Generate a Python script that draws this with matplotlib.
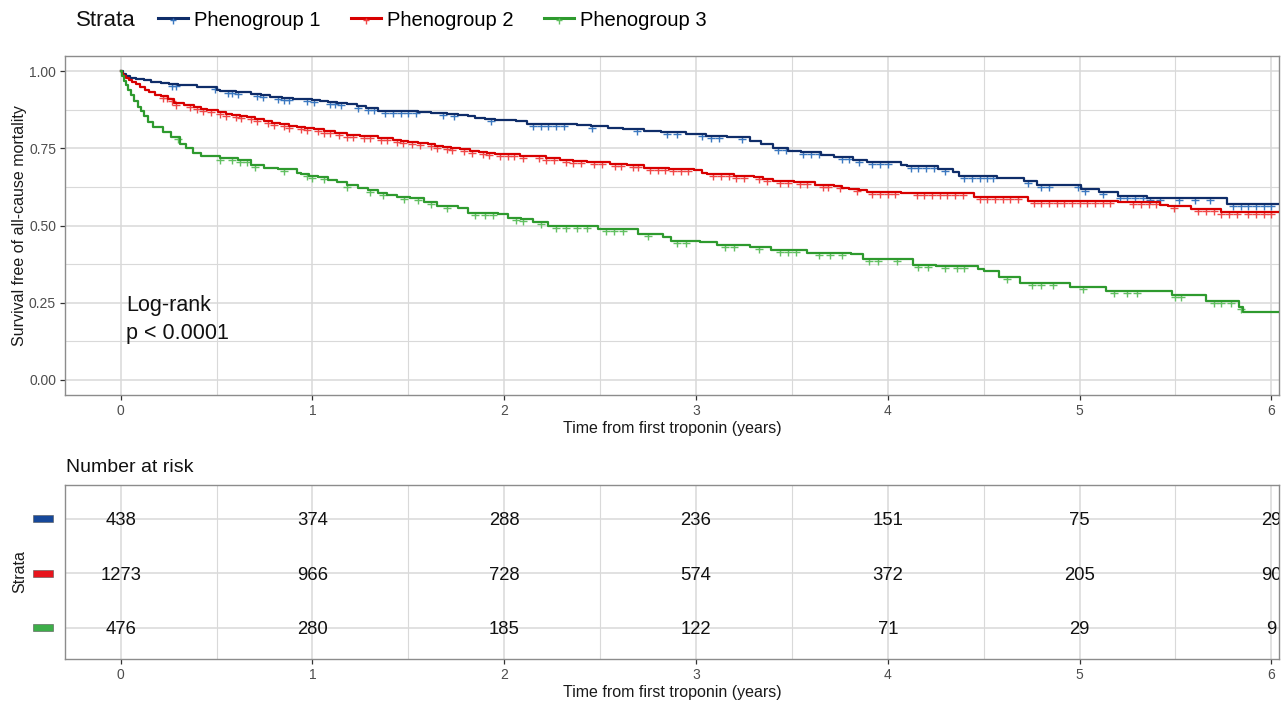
import numpy as np
import matplotlib
matplotlib.use("Agg")
import matplotlib.pyplot as plt
from matplotlib.lines import Line2D
from matplotlib.patches import Rectangle
from matplotlib.path import Path
import matplotlib.transforms as mtransforms

plt.rcParams['font.family'] = ['Liberation Sans', 'DejaVu Sans']

# ---------------- data ----------------
groups = ["Phenogroup 1", "Phenogroup 2", "Phenogroup 3"]

p1_time = [0, 0.01, 0.03, 0.05, 0.08, 0.12, 0.16, 0.21, 0.25, 0.30, 0.35, 0.40, 0.45, 0.50,
           0.52, 0.60, 0.68, 0.73, 0.78, 0.84, 0.90, 1.00, 1.04, 1.08, 1.13, 1.18, 1.23,
           1.28, 1.34, 1.45, 1.55, 1.62, 1.70, 1.76, 1.81, 1.85, 1.90, 1.95, 2.06, 2.12,
           2.38, 2.45, 2.54, 2.62, 2.73, 2.82, 2.95, 3.05, 3.16, 3.28, 3.34, 3.40, 3.48,
           3.55, 3.65, 3.72, 3.82, 3.89, 4.07, 4.10, 4.26, 4.34, 4.37, 4.57, 4.71, 4.78,
           5.01, 5.10, 5.20, 5.35, 5.77]
p1_surv = [1.0, 0.993, 0.986, 0.980, 0.975, 0.971, 0.966, 0.963, 0.960, 0.957, 0.955, 0.951,
           0.948, 0.940, 0.935, 0.932, 0.928, 0.923, 0.918, 0.915, 0.912, 0.908, 0.905,
           0.902, 0.898, 0.893, 0.888, 0.882, 0.872, 0.870, 0.868, 0.866, 0.862, 0.858,
           0.854, 0.850, 0.846, 0.842, 0.838, 0.831, 0.827, 0.822, 0.817, 0.813, 0.808,
           0.802, 0.797, 0.792, 0.786, 0.775, 0.766, 0.752, 0.743, 0.738, 0.730, 0.722,
           0.712, 0.705, 0.698, 0.692, 0.684, 0.675, 0.660, 0.655, 0.643, 0.630, 0.617,
           0.610, 0.597, 0.588, 0.571]

p2_time = [0, 0.005, 0.01, 0.02, 0.03, 0.045, 0.06, 0.08, 0.10, 0.125, 0.15, 0.18, 0.21,
           0.245, 0.28, 0.33, 0.38, 0.42, 0.45, 0.51, 0.55, 0.58, 0.62, 0.66, 0.70, 0.75,
           0.79, 0.83, 0.88, 0.92, 0.96, 1.01, 1.06, 1.12, 1.18, 1.25, 1.34, 1.42, 1.46,
           1.50, 1.55, 1.60, 1.64, 1.68, 1.72, 1.77, 1.82, 1.87, 1.91, 1.95, 2.08, 2.15,
           2.22, 2.29, 2.36, 2.43, 2.55, 2.64, 2.73, 2.86, 2.99, 3.03, 3.06, 3.20, 3.30,
           3.35, 3.40, 3.51, 3.62, 3.72, 3.76, 3.80, 3.85, 3.89, 4.07, 4.12, 4.45, 4.73,
           5.20, 5.42, 5.46, 5.58, 5.74]
p2_surv = [1.0, 0.995, 0.99, 0.984, 0.978, 0.971, 0.965, 0.958, 0.951, 0.941, 0.932, 0.925,
           0.919, 0.909, 0.899, 0.890, 0.883, 0.878, 0.874, 0.867, 0.863, 0.859, 0.855,
           0.851, 0.846, 0.840, 0.834, 0.828, 0.824, 0.820, 0.816, 0.812, 0.806, 0.800,
           0.795, 0.789, 0.784, 0.779, 0.775, 0.771, 0.767, 0.763, 0.759, 0.755, 0.751,
           0.747, 0.742, 0.738, 0.734, 0.731, 0.727, 0.724, 0.719, 0.714, 0.709, 0.705,
           0.700, 0.695, 0.688, 0.684, 0.679, 0.672, 0.666, 0.662, 0.659, 0.652, 0.646,
           0.640, 0.633, 0.627, 0.622, 0.618, 0.614, 0.610, 0.607, 0.604, 0.594, 0.580,
           0.575, 0.568, 0.562, 0.552, 0.545]

p3_time = [0, 0.005, 0.015, 0.026, 0.04, 0.052, 0.07, 0.089, 0.105, 0.12, 0.145, 0.17, 0.22,
           0.26, 0.31, 0.34, 0.375, 0.42, 0.52, 0.61, 0.68, 0.75, 0.82, 0.88, 0.92, 0.94,
           0.98, 1.03, 1.08, 1.13, 1.18, 1.24, 1.29, 1.34, 1.39, 1.44, 1.51, 1.58, 1.65,
           1.76, 1.81, 1.97, 2.02, 2.09, 2.15, 2.23, 2.49, 2.70, 2.83, 2.87, 3.02, 3.11,
           3.28, 3.39, 3.58, 3.81, 3.87, 4.13, 4.25, 4.47, 4.50, 4.58, 4.69, 4.95, 5.14,
           5.48, 5.66, 5.83, 5.85]
p3_surv = [1.0, 0.985, 0.97, 0.955, 0.94, 0.925, 0.905, 0.886, 0.870, 0.854, 0.837, 0.821,
           0.805, 0.786, 0.763, 0.750, 0.734, 0.724, 0.720, 0.714, 0.698, 0.688, 0.685,
           0.682, 0.672, 0.666, 0.661, 0.656, 0.648, 0.640, 0.632, 0.623, 0.615, 0.607,
           0.600, 0.594, 0.588, 0.575, 0.562, 0.558, 0.542, 0.539, 0.526, 0.520, 0.513,
           0.497, 0.490, 0.471, 0.464, 0.451, 0.448, 0.438, 0.429, 0.422, 0.412, 0.409,
           0.390, 0.373, 0.368, 0.360, 0.351, 0.334, 0.312, 0.299, 0.286, 0.276, 0.256,
           0.237, 0.218]

end_time = [6.06, 6.06, 6.06]

p1_censor = [0.27, 0.29, 0.49, 0.56, 0.58, 0.61, 0.71, 0.74, 0.82, 0.85, 0.88, 0.97, 1.01,
             1.09, 1.12, 1.15, 1.24, 1.29, 1.32, 1.38, 1.42, 1.46, 1.50, 1.54, 1.68, 1.74,
             1.93, 2.15, 2.19, 2.23, 2.27, 2.31, 2.46, 2.69, 2.85, 2.90, 3.03, 3.08, 3.12,
             3.24, 3.43, 3.47, 3.56, 3.60, 3.64, 3.76, 3.80, 3.85, 3.92, 3.96, 4.00, 4.12,
             4.16, 4.20, 4.24, 4.30, 4.40, 4.44, 4.48, 4.52, 4.55, 4.73, 4.80, 4.84, 4.99,
             5.03, 5.12, 5.21, 5.25, 5.29, 5.33, 5.37, 5.42, 5.52, 5.60, 5.68, 5.80, 5.84,
             5.88, 5.92, 5.96, 6.00]
p2_censor = [0.22, 0.24, 0.27, 0.29, 0.36, 0.40, 0.43, 0.47, 0.52, 0.55, 0.60, 0.63, 0.68,
             0.71, 0.77, 0.80, 0.85, 0.88, 0.94, 0.97, 1.03, 1.06, 1.09, 1.14, 1.18, 1.21,
             1.27, 1.30, 1.36, 1.39, 1.44, 1.47, 1.52, 1.56, 1.62, 1.65, 1.70, 1.73, 1.79,
             1.83, 1.89, 1.92, 1.98, 2.02, 2.05, 2.10, 2.18, 2.22, 2.26, 2.32, 2.36, 2.40,
             2.47, 2.51, 2.58, 2.61, 2.67, 2.70, 2.76, 2.80, 2.84, 2.88, 2.92, 2.96, 3.09,
             3.13, 3.17, 3.21, 3.25, 3.33, 3.37, 3.44, 3.48, 3.54, 3.58, 3.66, 3.69, 3.75,
             3.84, 3.92, 3.96, 4.00, 4.04, 4.15, 4.19, 4.23, 4.27, 4.31, 4.35, 4.39, 4.48,
             4.52, 4.56, 4.60, 4.64, 4.68, 4.76, 4.80, 4.84, 4.88, 4.92, 4.96, 5.00, 5.04,
             5.08, 5.12, 5.16, 5.28, 5.32, 5.36, 5.40, 5.49, 5.62, 5.66, 5.70, 5.74, 5.78,
             5.82, 5.88, 5.92, 5.96, 6.00]
p3_censor = [0.30, 0.52, 0.58, 0.62, 0.66, 0.70, 0.85, 0.97, 1.00, 1.06, 1.18, 1.30, 1.37,
             1.48, 1.55, 1.62, 1.70, 1.85, 1.90, 1.94, 2.06, 2.10, 2.19, 2.27, 2.32, 2.38,
             2.43, 2.53, 2.57, 2.62, 2.75, 2.90, 2.95, 3.15, 3.20, 3.33, 3.44, 3.48, 3.52,
             3.64, 3.70, 3.76, 3.90, 3.95, 4.05, 4.16, 4.21, 4.30, 4.36, 4.40, 4.62, 4.75,
             4.80, 4.86, 5.02, 5.18, 5.25, 5.30, 5.50, 5.53, 5.70, 5.74, 5.79, 5.84]

risk_times = [0, 1, 2, 3, 4, 5, 6]
risk_p1 = [438, 374, 288, 236, 151, 75, 29]
risk_p2 = [1273, 966, 728, 574, 372, 205, 90]
risk_p3 = [476, 280, 185, 122, 71, 29, 9]

# ---------------- styles ----------------
line_colors = ["#0F2D69", "#D80000", "#2E9A2E"]
censor_colors = ["#3B78C0", "#F04848", "#62C062"]
table_colors = ["#16489A", "#E8141C", "#3DAE49"]
grid_c = "#D9D9D9"

# censor mark: a "+" hanging just below the curve
censor_marker = Path([(-0.6, -0.3), (0.6, -0.3), (0.0, 0.05), (0.0, -1.0)],
                     [Path.MOVETO, Path.LINETO, Path.MOVETO, Path.LINETO])

fig = plt.figure(figsize=(12.88, 7.03), dpi=100)
ax = fig.add_axes([0.0505, 0.4381, 0.9425, 0.4822])
axt = fig.add_axes([0.0505, 0.0626, 0.9425, 0.2474])

times = [p1_time, p2_time, p3_time]
survs = [p1_surv, p2_surv, p3_surv]
cens = [p1_censor, p2_censor, p3_censor]

for i in range(3):
    t = np.array(times[i] + [end_time[i]])
    s = np.array(survs[i] + [survs[i][-1]])
    ax.step(t, s, where='post', color=line_colors[i], lw=1.6, zorder=4 + i * 0.1)
    ct = np.array(cens[i])
    idx = np.searchsorted(np.array(times[i]), ct, side='right') - 1
    cs = np.array(survs[i])[idx]
    ax.plot(ct, cs, linestyle='none', marker=censor_marker, markersize=8.5, mew=1.0,
            color=censor_colors[i], zorder=3)

xlim = (-0.29, 6.04)
for a in (ax, axt):
    a.set_xlim(*xlim)
    a.set_xticks(risk_times)
    a.set_xticks(np.arange(0.5, 6.5, 1.0), minor=True)
    a.tick_params(which='major', length=3.5, width=0.9, color='#333333',
                  labelsize=10, labelcolor='#4D4D4D', pad=3)
    a.tick_params(which='minor', length=0)
    a.grid(which='major', color=grid_c, lw=1.1, zorder=0)
    a.grid(which='minor', color=grid_c, lw=0.8, zorder=0)
    a.set_axisbelow(True)
    for sp in a.spines.values():
        sp.set_color('#8C8C8C')
        sp.set_linewidth(1.0)
    a.set_xlabel("Time from first troponin (years)", fontsize=11.5, color='#1A1A1A',
                 labelpad=2)

ax.set_ylim(-0.05, 1.05)
ax.set_yticks([0, 0.25, 0.5, 0.75, 1.0])
ax.set_yticklabels(["0.00", "0.25", "0.50", "0.75", "1.00"])
ax.set_yticks([0.125, 0.375, 0.625, 0.875], minor=True)
ax.set_ylabel("Survival free of all-cause mortality", fontsize=11.5, color='#1A1A1A')
ax.yaxis.set_label_coords(-0.0313, 0.5)

ax.text(0.03, 0.195, "Log-rank\np < 0.0001", fontsize=15.5, va='center', ha='left',
        linespacing=1.45, color='#111111')

# ---------------- risk table ----------------
axt.set_ylim(0.43, 3.62)
axt.set_yticks([1, 2, 3])
axt.set_yticklabels([])
axt.tick_params(axis='y', length=0)
axt.set_ylabel("Strata", fontsize=11.5, color='#1A1A1A')
axt.yaxis.set_label_coords(-0.0313, 0.5)
risks = [risk_p1, risk_p2, risk_p3]
rows = [3, 2, 1]
blend = mtransforms.blended_transform_factory(axt.transAxes, axt.transData)
for i in range(3):
    for tt, n in zip(risk_times, risks[i]):
        axt.text(tt, rows[i] - 0.03, str(n), ha='center', va='center', fontsize=13.3,
                 color='#111111', clip_on=True)
    axt.add_patch(Rectangle((-0.0264, rows[i] - 0.065), 0.0165, 0.13, transform=blend,
                            facecolor=table_colors[i], edgecolor='#555555', lw=0.4,
                            clip_on=False))

fig.text(66 / 1288, 1 - 467 / 703, "Number at risk", fontsize=14, ha='left', va='center',
         color='#111111')

# ---------------- legend ----------------
fig.text(76 / 1288, 1 - 20 / 703, "Strata", fontsize=16, ha='left', va='center',
         color='#111111')
handles = [Line2D([0, 0.5, 1], [0, 0, 0], color=line_colors[i], lw=2.2,
                  marker=censor_marker, markersize=8, markevery=[1],
                  mec=censor_colors[i], mew=1.0) for i in range(3)]
fig.legend(handles, groups, loc='center left', bbox_to_anchor=(158 / 1288, 1 - 20 / 703),
           ncol=3, frameon=False, fontsize=14.5, handlelength=1.5, handletextpad=0.3,
           columnspacing=1.5, borderaxespad=0, borderpad=0)

fig.savefig("out.png", dpi=100)
